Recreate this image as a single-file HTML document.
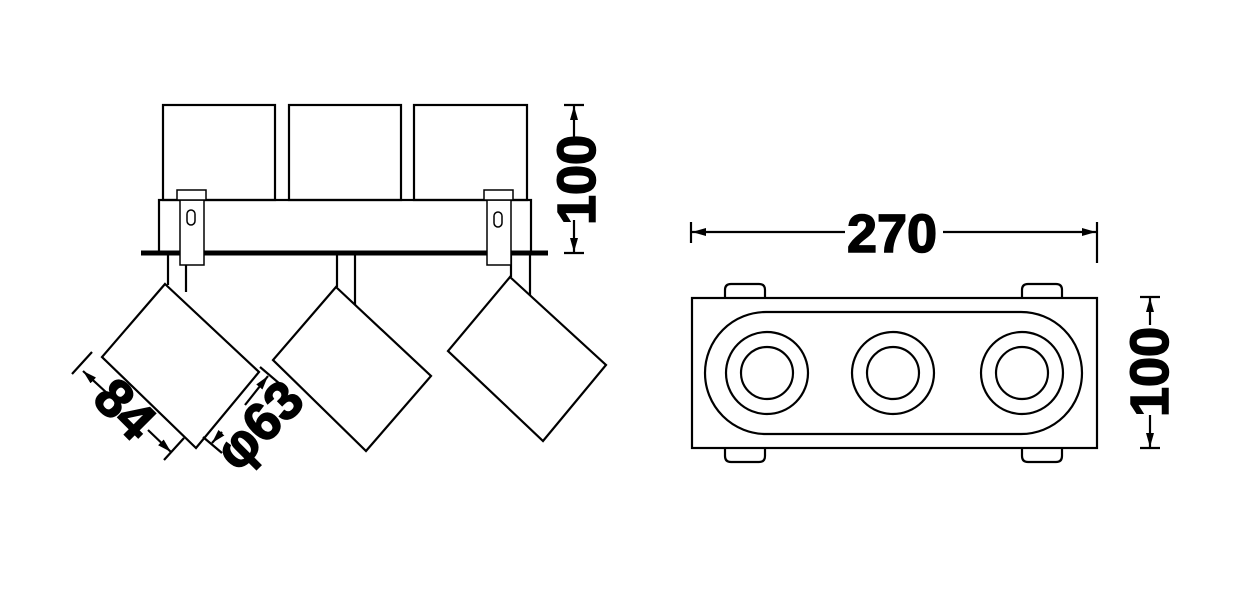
<!DOCTYPE html>
<html><head><style>body{margin:0;background:#fff}svg{display:block}</style></head><body>
<svg width="1240" height="591" viewBox="0 0 1240 591" xmlns="http://www.w3.org/2000/svg">
<defs><marker id="a" markerWidth="14" markerHeight="8" refX="14" refY="4" orient="auto" markerUnits="userSpaceOnUse"><path d="M0,0 L14,4 L0,8z" fill="#000"/></marker></defs>
<g fill="none" stroke="#000" stroke-width="2.2">
<rect x="163" y="105" width="112" height="95"/>
<rect x="289" y="105" width="112" height="95"/>
<rect x="414" y="105" width="113" height="95"/>
<rect x="159" y="200" width="372" height="53"/>
<line x1="141" y1="253" x2="548" y2="253" stroke-width="5"/>
<line x1="168" y1="253" x2="168" y2="285"/><line x1="186" y1="253" x2="186" y2="292"/>
<line x1="337" y1="253" x2="337" y2="287"/><line x1="355" y1="253" x2="355" y2="305"/>
<line x1="511" y1="253" x2="511" y2="277"/><line x1="530" y1="253" x2="530" y2="295"/>
<rect x="180" y="200" width="24" height="65" fill="#fff" stroke-width="1.5"/>
<rect x="487" y="200" width="24" height="65" fill="#fff" stroke-width="1.5"/>
<rect x="177" y="190" width="29" height="10" fill="#fff" stroke-width="1.5"/>
<rect x="484" y="190" width="29" height="10" fill="#fff" stroke-width="1.5"/>
<rect x="187" y="210" width="8" height="15" rx="4" stroke-width="1.5"/>
<rect x="494" y="212" width="8" height="15" rx="4" stroke-width="1.5"/>
<polygon points="165,284 259,372 196,448 102,357" fill="#fff"/>
<polygon points="336,287 431,376 366,451 273,360" fill="#fff"/>
<polygon points="510,277 606,365 543,441 448,351" fill="#fff"/>
<line x1="564" y1="105" x2="584" y2="105"/><line x1="564" y1="253" x2="584" y2="253"/>
<line x1="574" y1="140" x2="574" y2="106" marker-end="url(#a)"/>
<line x1="574" y1="220" x2="574" y2="252" marker-end="url(#a)"/>
<line x1="72" y1="374" x2="92" y2="352"/>
<line x1="108" y1="394" x2="83" y2="371" marker-end="url(#a)"/>
<line x1="148" y1="430" x2="171" y2="452" marker-end="url(#a)"/>
<line x1="164" y1="460" x2="184" y2="438"/>
<line x1="245" y1="405" x2="268" y2="376" marker-end="url(#a)"/>
<line x1="260" y1="367" x2="280" y2="384"/>
<line x1="222" y1="432" x2="212" y2="443" marker-end="url(#a)"/>
<line x1="203" y1="437" x2="222" y2="453"/>
<rect x="692" y="298" width="405" height="150"/>
<rect x="705" y="312" width="377" height="122" rx="61"/>
<circle cx="767" cy="373" r="41"/><circle cx="767" cy="373" r="26"/>
<circle cx="893" cy="373" r="41"/><circle cx="893" cy="373" r="26"/>
<circle cx="1022" cy="373" r="41"/><circle cx="1022" cy="373" r="26"/>
<path d="M725,297 V290 Q725,284 731,284 H759 Q765,284 765,290 V297"/>
<path d="M1022,297 V290 Q1022,284 1028,284 H1056 Q1062,284 1062,290 V297"/>
<path d="M725,449 V456 Q725,462 731,462 H759 Q765,462 765,456 V449"/>
<path d="M1022,449 V456 Q1022,462 1028,462 H1056 Q1062,462 1062,456 V449"/>
<line x1="691" y1="222" x2="691" y2="243"/><line x1="1097" y1="222" x2="1097" y2="263"/>
<line x1="845" y1="232" x2="692" y2="232" marker-end="url(#a)"/>
<line x1="943" y1="232" x2="1096" y2="232" marker-end="url(#a)"/>
<line x1="1140" y1="297" x2="1160" y2="297"/><line x1="1140" y1="448" x2="1160" y2="448"/>
<line x1="1150" y1="325" x2="1150" y2="298" marker-end="url(#a)"/>
<line x1="1150" y1="415" x2="1150" y2="447" marker-end="url(#a)"/>
</g>
<g font-family="Liberation Sans, sans-serif" font-weight="bold" fill="#000" stroke="#000" stroke-width="1.5" font-size="54">
<text x="892" y="252" text-anchor="middle">270</text>
<text transform="translate(1168,372) rotate(-90)" text-anchor="middle">100</text>
<text transform="translate(595,180) rotate(-90)" text-anchor="middle">100</text>
<text transform="translate(122,412) rotate(45)" text-anchor="middle" dominant-baseline="middle">84</text>
<text transform="translate(262,428) rotate(-45)" text-anchor="middle" dominant-baseline="middle">φ63</text>
</g>
</svg>
</body></html>
